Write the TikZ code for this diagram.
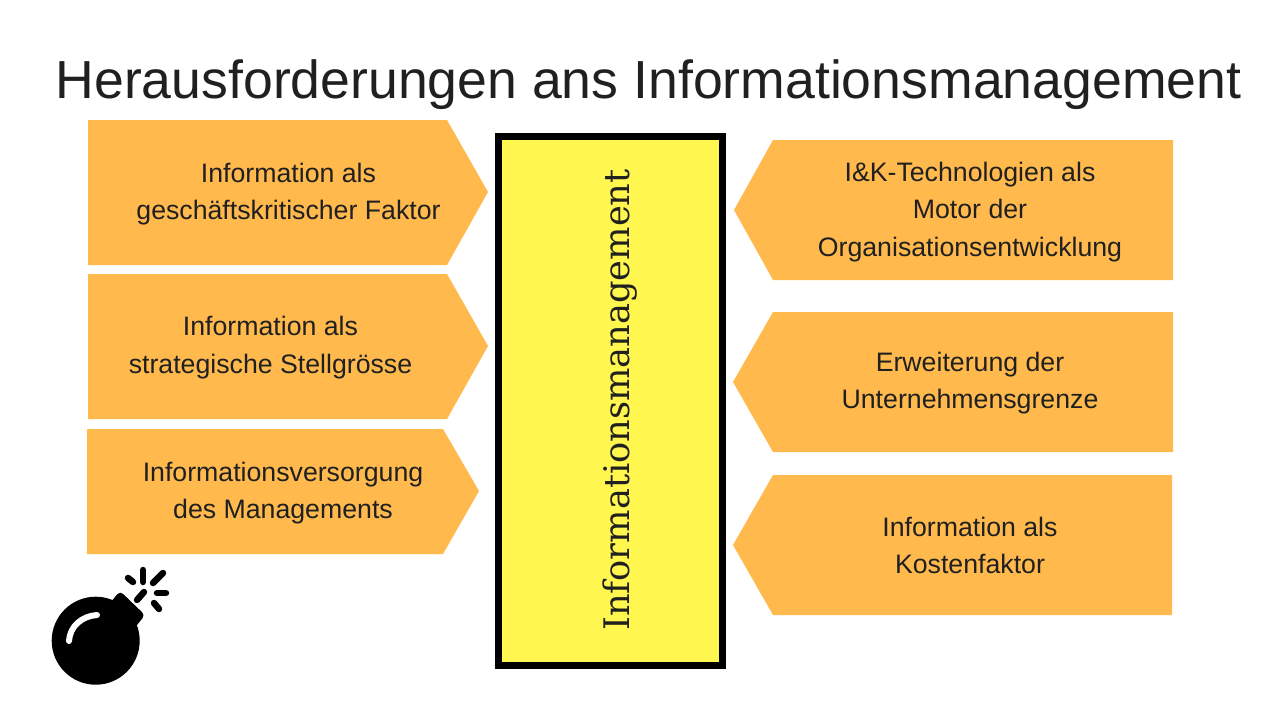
\documentclass[tikz,border=0pt]{standalone}
\usepackage{fontspec}
\setmainfont{Liberation Sans}
\newfontfamily\slabfont{DejaVu Serif}
\definecolor{arrowfill}{HTML}{FFB94D}
\definecolor{boxfill}{HTML}{FFF64F}
\definecolor{ink}{HTML}{202020}
\tikzset{
  lbl/.style={align=center,text=ink,font=\fontsize{26.7}{37.4}\selectfont,inner sep=0pt},
  pent/.style={fill=arrowfill,draw=none},
  spark/.style={black,line width=6.5pt,line cap=round},
}
\begin{document}
\begin{tikzpicture}[x=1pt,y=-1pt]
\useasboundingbox (0,0) rectangle (1280,720);
\fill[white] (0,0) rectangle (1280,720);
\node[text=ink,font=\fontsize{53.6}{60}\selectfont,inner sep=0pt] (title) at (648.5,84.5) {Herausforderungen ans Informationsmanagement};
% left
\fill[pent] (88,120) -- (447,120) -- (488,192) -- (447,265) -- (88,265) -- cycle;
\fill[pent] (88,274) -- (447,274) -- (488,346) -- (447,419) -- (88,419) -- cycle;
\fill[pent] (87,429) -- (443,429) -- (479,491) -- (443,554) -- (87,554) -- cycle;
\node[lbl] (l1) at (288.5,194) {Information als\\geschäftskritischer Faktor};
\node[lbl] (l2) at (270.5,347.5) {Information als\\strategische Stellgrösse};
\node[lbl] (l3) at (283,493) {Informationsversorgung\\des Managements};
% right
\fill[pent] (1173,140) -- (773,140) -- (734,210) -- (773,280) -- (1173,280) -- cycle;
\fill[pent] (1173,312) -- (773,312) -- (733,382) -- (773,452) -- (1173,452) -- cycle;
\fill[pent] (1172,475) -- (773,475) -- (733,545) -- (773,615) -- (1172,615) -- cycle;
\node[lbl] (r1) at (970,212) {I\&K-Technologien als\\Motor der\\Organisationsentwicklung};
\node[lbl] (r2) at (970,383) {Erweiterung der\\Unternehmensgrenze};
\node[lbl] (r3) at (970,545.5) {Information als\\Kostenfaktor};
% centre
\node[draw=black,line width=7pt,fill=boxfill,minimum width=224pt,minimum height=529pt,inner sep=0pt] (box) at (610.2,401) {};
\node[rotate=90,text=ink,inner sep=0pt,font=\slabfont\fontsize{35.2}{40}\selectfont] (cap) at (620,400) {Informationsmanagement};
% bomb
\fill[black] (95.7,640.7) circle (44);
\fill[black,rounded corners=4pt] (120,591) -- (145,615) -- (125,640) -- (100,615) -- cycle;
\draw[spark] (137,600) -- (144,592);
\draw[spark] (128,578) -- (133,582);
\draw[spark] (143,570) -- (143,582);
\draw[spark] (153,583) -- (163,573);
\draw[spark] (157,593) -- (166,593);
\draw[spark] (154,603) -- (159,609);
\draw[white,line width=6pt,line cap=round] (69,641) .. controls (70,626) and (82,616) .. (97,615);
\end{tikzpicture}
\end{document}
